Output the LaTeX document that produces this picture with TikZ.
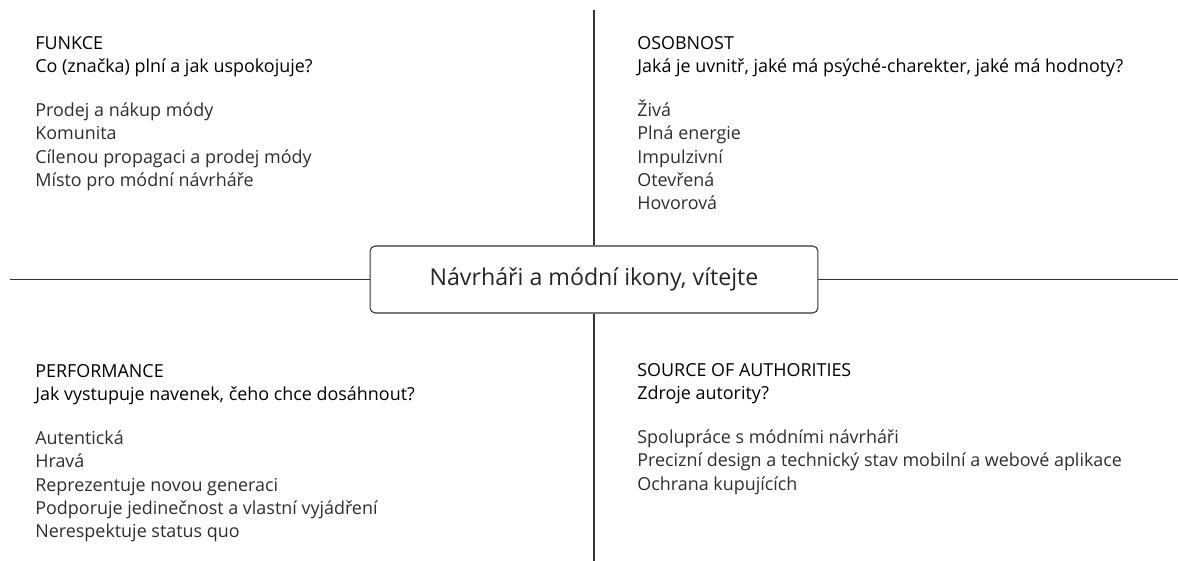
\documentclass[tikz,border=0pt]{standalone}
\usepackage{fontspec}
\setmainfont{Open Sans}
\usetikzlibrary{positioning}

\newcommand{\heading}[1]{\textcolor{black}{#1}}

\begin{document}
\begin{tikzpicture}[
    x=0.02cm, y=-0.02cm,
    hub/.style={rectangle, draw=black!80, rounded corners=3pt, line width=0.6pt, minimum width=8.96cm, minimum height=1.34cm, text=black!85, font=\fontsize{13.2}{16}\selectfont},
    quadrant/.style={anchor=north west, align=left, inner sep=0pt, text=black!82, font=\fontsize{10.2}{13.3}\selectfont},
    axis/.style={draw=black!80, line width=0.6pt}
]
\useasboundingbox (0,0) rectangle (1178,561);

% stred
\node (hub) [hub] at (594,279.5) {Návrháři a módní ikony, vítejte};

% konce os
\coordinate (top) at (594,10);
\coordinate (bottom) at (594,561);
\coordinate (left) at (10,279.5);
\coordinate (right) at (1178,279.5);

\draw [axis] (hub.north) -- (top);
\draw [axis] (hub.south) -- (bottom);
\draw [axis] (hub.west) -- (left);
\draw [axis] (hub.east) -- (right);

% ctyri kvadranty
\node (funkce) [quadrant] at (35,36) {\heading{FUNKCE}\\\heading{Co (značka) plní a jak uspokojuje?}\\[11.5pt]
    Prodej a nákup módy\\Komunita\\Cílenou propagaci a prodej módy\\Místo pro módní návrháře};
\node (osobnost) [quadrant] at (637,36) {\heading{OSOBNOST}\\\heading{Jaká je uvnitř, jaké má psýché-charekter, jaké má hodnoty?}\\[11.5pt]
    Živá\\Plná energie\\Impulzivní\\Otevřená\\Hovorová};
\node (performance) [quadrant] at (35,364) {\heading{PERFORMANCE}\\\heading{Jak vystupuje navenek, čeho chce dosáhnout?}\\[11.5pt]
    Autentická\\Hravá\\Reprezentuje novou generaci\\Podporuje jedinečnost a vlastní vyjádření\\Nerespektuje status quo};
\node (autorita) [quadrant] at (637,363) {\heading{SOURCE OF AUTHORITIES}\\\heading{Zdroje autority?}\\[11.5pt]
    Spolupráce s módními návrháři\\Precizní design a technický stav mobilní a webové aplikace\\Ochrana kupujících};

\end{tikzpicture}
\end{document}
